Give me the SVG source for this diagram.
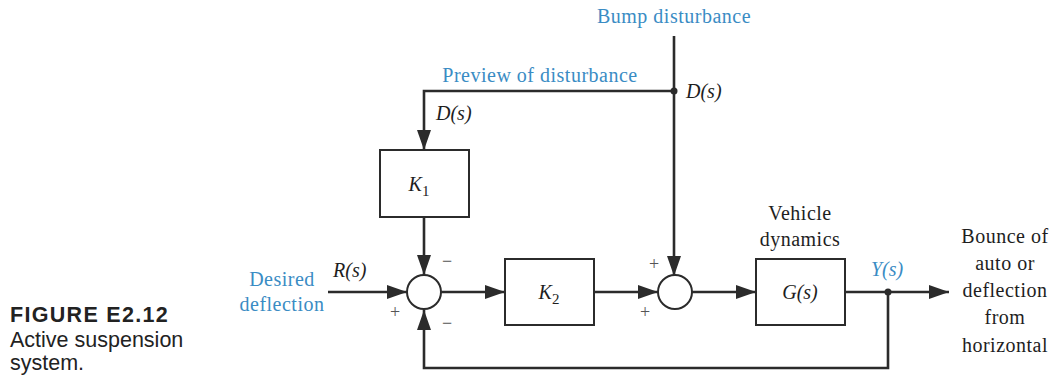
<svg xmlns="http://www.w3.org/2000/svg" width="1055" height="377" viewBox="0 0 1055 377">
<style>
.ln{fill:none;stroke:#2b2b2b;stroke-width:2.6}
.bx{fill:#fff;stroke:#2b2b2b;stroke-width:2}
.t{font-family:"Liberation Serif",serif;font-size:20px;letter-spacing:0.5px;fill:#1e1e1e}
.i{font-style:italic;letter-spacing:0}
.b{fill:#3a8cc4}
.pm{font-family:"Liberation Serif",serif;font-size:18px;fill:#555}
.s{font-family:"Liberation Sans",sans-serif;fill:#222}
</style>
<defs>
<marker id="ah2" viewBox="0 0 20 14" refX="20" refY="7" markerWidth="20" markerHeight="14" markerUnits="userSpaceOnUse" orient="auto">
<path d="M0,0 L20,7 L0,14 z" fill="#2b2b2b"/>
</marker>
</defs>
<rect width="1055" height="377" fill="#fff"/>
<g id="caption">
<text class="s" x="10" y="322" font-size="21.5" font-weight="bold" letter-spacing="1.3">FIGURE E2.12</text>
<text class="s" x="10" y="347" font-size="21.5">Active suspension</text>
<text class="s" x="10" y="370" font-size="21.5">system.</text>
</g>
<g id="connectors">
<path class="ln" d="M674,36 V276" marker-end="url(#ah2)"/>
<path class="ln" d="M674,91 H424 V150" marker-end="url(#ah2)"/>
<path class="ln" d="M424,217 V275" marker-end="url(#ah2)"/>
<path class="ln" d="M328,292 H407" marker-end="url(#ah2)"/>
<path class="ln" d="M441,292 H505" marker-end="url(#ah2)"/>
<path class="ln" d="M594,292 H658" marker-end="url(#ah2)"/>
<path class="ln" d="M692,292 H756" marker-end="url(#ah2)"/>
<path class="ln" d="M845,292 H949" marker-end="url(#ah2)"/>
<path class="ln" d="M888,292 V368 H424 V310" marker-end="url(#ah2)"/>
<circle cx="674" cy="91" r="3.5" fill="#2b2b2b"/>
<circle cx="888" cy="292" r="3.5" fill="#2b2b2b"/>
</g>
<g id="labels">
<text class="t b" x="674" y="23" text-anchor="middle">Bump disturbance</text>
<text class="t b" x="540" y="82" text-anchor="middle">Preview of disturbance</text>
<text class="t i" x="686" y="98">D(s)</text>
<text class="t i" x="436" y="120">D(s)</text>
<text class="t i" x="333" y="277">R(s)</text>
<text class="t b" x="282" y="286" text-anchor="middle">Desired</text>
<text class="t b" x="282" y="311" text-anchor="middle">deflection</text>
<text class="t i b" x="887" y="276" text-anchor="middle">Y(s)</text>
<text class="t" x="800" y="220" text-anchor="middle">Vehicle</text>
<text class="t" x="800" y="246" text-anchor="middle">dynamics</text>
<text class="t" x="1005" y="243" text-anchor="middle">Bounce of</text>
<text class="t" x="1005" y="270" text-anchor="middle">auto or</text>
<text class="t" x="1005" y="297" text-anchor="middle">deflection</text>
<text class="t" x="1005" y="324" text-anchor="middle">from</text>
<text class="t" x="1005" y="352" text-anchor="middle">horizontal</text>
<text class="pm" x="447" y="267" text-anchor="middle">−</text>
<text class="pm" x="395" y="318" text-anchor="middle">+</text>
<text class="pm" x="447" y="329" text-anchor="middle">−</text>
<text class="pm" x="654" y="270" text-anchor="middle">+</text>
<text class="pm" x="645" y="318" text-anchor="middle">+</text>
</g>
<g id="sum1"><circle class="bx" cx="424" cy="292" r="17"/></g>
<g id="sum2"><circle class="bx" cx="675" cy="292" r="17"/></g>
<g id="K1"><rect class="bx" x="380" y="150" width="89" height="67"/>
<text class="t i" x="419" y="191" text-anchor="middle" font-size="21">K<tspan font-style="normal" font-size="15" dy="5">1</tspan></text></g>
<g id="K2"><rect class="bx" x="505" y="259" width="89" height="66"/>
<text class="t i" x="549" y="299" text-anchor="middle" font-size="21">K<tspan font-style="normal" font-size="15" dy="5">2</tspan></text></g>
<g id="G"><rect class="bx" x="756" y="259" width="89" height="66"/>
<text class="t i" x="800" y="299" text-anchor="middle">G(s)</text></g>
</svg>
